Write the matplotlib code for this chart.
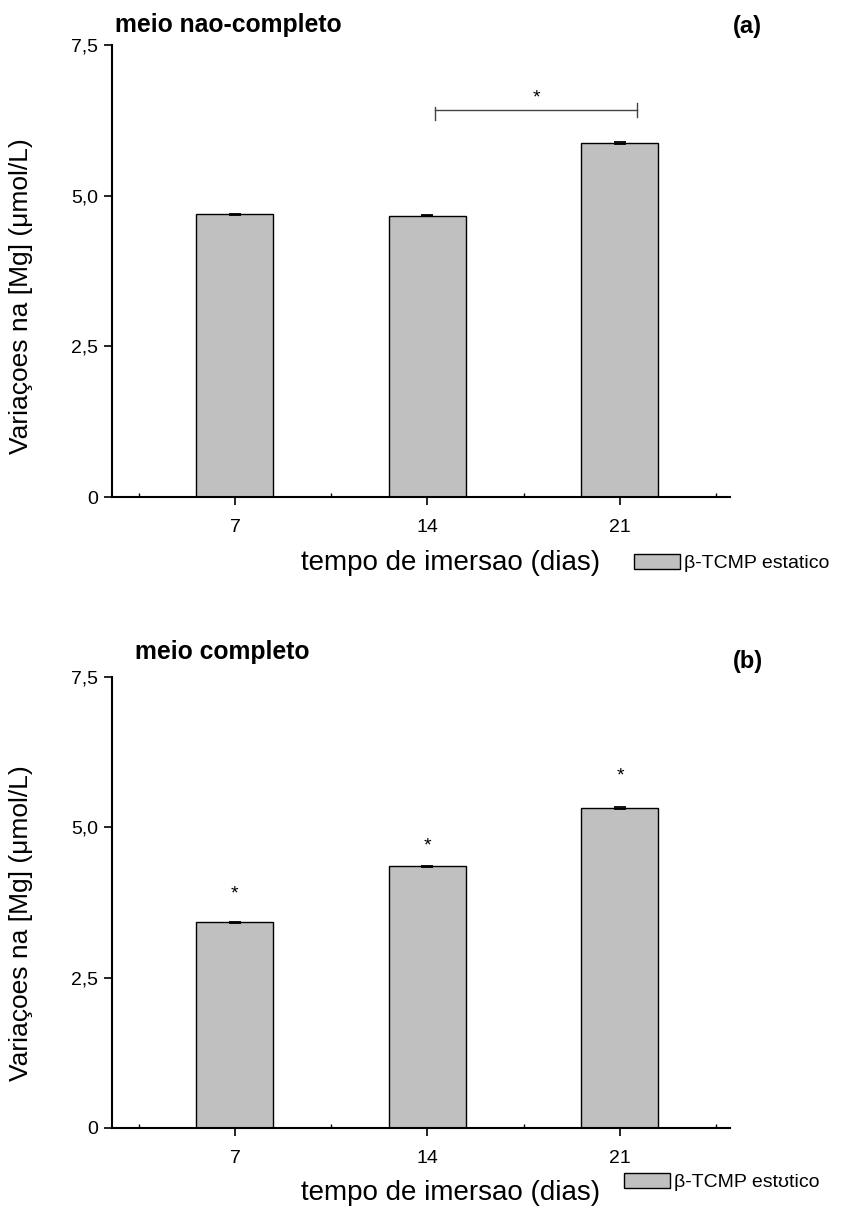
import matplotlib
matplotlib.use("Agg")
import matplotlib.pyplot as plt
from matplotlib.patches import Patch

plt.rcParams['font.family'] = ['Liberation Sans', 'DejaVu Sans']

days = [7, 14, 21]
mg_a = [4.69, 4.67, 5.87]
err_a = [0.01, 0.01, 0.015]
mg_b = [3.42, 4.35, 5.32]
err_b = [0.01, 0.01, 0.01]
yticks = [0, 2.5, 5.0, 7.5]
ytick_labels = ['0', '2,5', '5,0', '7,5']
star_b = [3.89, 4.69, 5.85]
legend_a = 'β-TCMP estatico'
legend_b = 'β-TCMP estʊtico'

W, H = 841, 1209
fig = plt.figure(figsize=(W / 100, H / 100), dpi=100)

BAR_COLOR = '#c0c0c0'


def make_axes(rect, values, errs):
    ax = fig.add_axes(rect)
    ax.bar(days, values, width=2.8, color=BAR_COLOR, edgecolor='black', linewidth=1.0, zorder=2)
    ax.errorbar(days, values, yerr=errs, fmt='none', ecolor='black', elinewidth=1.0,
                capsize=4, capthick=1.3, zorder=3)
    ax.set_xlim(2.53, 25.0)
    ax.set_ylim(0, 7.5)
    ax.set_xticks(days)
    ax.set_xticklabels([str(d) for d in days])
    ax.set_xticks([3.5, 10.5, 17.5, 24.5], minor=True)
    ax.set_yticks(yticks)
    ax.set_yticklabels(ytick_labels)
    for s in ['top', 'right']:
        ax.spines[s].set_visible(False)
    for s in ['left', 'bottom']:
        ax.spines[s].set_linewidth(1.5)
    ax.tick_params(axis='both', which='major', direction='out', length=6, width=1.2,
                   labelsize=14)
    ax.tick_params(axis='y', which='major', pad=4)
    ax.tick_params(axis='x', which='major', pad=10)
    ax.tick_params(axis='x', which='minor', direction='in', length=3, width=1.0)
    return ax


# panel (a)
ax1 = make_axes([112 / W, 1 - 497 / H, 618 / W, 452 / H], mg_a, err_a)
# significance bracket between 14 and 21
ax1.plot([14.27, 21.62], [6.42, 6.42], color='#444444', lw=1.0)
ax1.plot([14.27, 14.27], [6.25, 6.47], color='#444444', lw=1.0)
ax1.plot([21.62, 21.62], [6.31, 6.54], color='#444444', lw=1.0)
ax1.text(17.95, 6.62, '*', ha='center', va='center', fontsize=14)

# panel (b)
ax2 = make_axes([112 / W, 1 - 1128 / H, 618 / W, 451 / H], mg_b, err_b)
for d, s in zip(days, star_b):
    ax2.text(d, s, '*', ha='center', va='center', fontsize=14)

# titles
fig.text(115 / W, 1 - 25 / H, 'meio nao-completo', fontsize=17.8, fontweight='bold',
         ha='left', va='center')
fig.text(733 / W, 1 - 27 / H, '(a)', fontsize=17, fontweight='bold', ha='left', va='center')
fig.text(135 / W, 1 - 652 / H, 'meio completo', fontsize=17.8, fontweight='bold',
         ha='left', va='center')
fig.text(733 / W, 1 - 662 / H, '(b)', fontsize=17, fontweight='bold', ha='left', va='center')

# axis labels
ylabel = 'Variaçoes na [Mg] (μmol/L)'
fig.text(21 / W, 1 - 296 / H, ylabel, rotation=90, fontsize=19, ha='center', va='center')
fig.text(21 / W, 1 - 923 / H, ylabel, rotation=90, fontsize=19, ha='center', va='center')
xlabel = 'tempo de imersao (dias)'
fig.text(451 / W, 1 - 563 / H, xlabel, fontsize=20, ha='center', va='center')
fig.text(451 / W, 1 - 1193 / H, xlabel, fontsize=20, ha='center', va='center')

# legends
for label, ypix, xpix in [(legend_a, 563, 634), (legend_b, 1182, 624)]:
    h = Patch(facecolor=BAR_COLOR, edgecolor='black', linewidth=1.0)
    fig.legend([h], [label], loc='center left', bbox_to_anchor=(xpix / W, 1 - ypix / H),
               frameon=False, fontsize=14, handlelength=2.35, handleheight=0.8,
               handletextpad=0.22, borderpad=0, borderaxespad=0)

fig.savefig('out.png', dpi=100)
